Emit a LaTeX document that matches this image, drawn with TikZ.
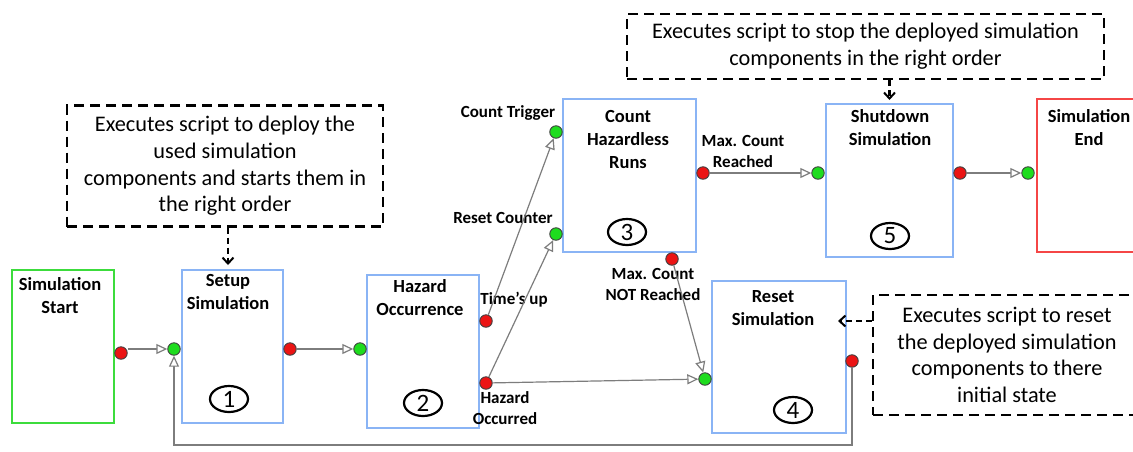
\documentclass[tikz,border=0pt]{standalone}
\usepackage{fontspec}
\setmainfont{Carlito}
\usetikzlibrary{arrows.meta,shapes.geometric,calc}
\definecolor{boxblue}{RGB}{138,180,245}
\definecolor{boxgreen}{RGB}{60,220,60}
\definecolor{boxred}{RGB}{245,70,70}
\definecolor{dotred}{RGB}{235,20,20}
\definecolor{dotgreen}{RGB}{30,220,30}
\definecolor{conngray}{RGB}{125,125,125}
\tikzset{
  blockbox/.style={draw=boxblue,line width=1.6pt,minimum width=#1,inner sep=0pt},
  title/.style={font=\bfseries\fontsize{18.5}{23}\selectfont,align=center,inner sep=0pt},
  portlabel/.style={font=\bfseries\fontsize{17}{21}\selectfont,align=center,inner sep=0pt},
  note/.style={draw,dashed,dash pattern=on 10pt off 6pt,line width=2.2pt,font=\fontsize{22.3}{26.7}\selectfont,align=center,inner sep=0pt},
  reddot/.style={circle,fill=dotred,draw=black!75,line width=0.9pt,minimum size=12.5pt,inner sep=0pt},
  greendot/.style={circle,fill=dotgreen,draw=black!75,line width=0.9pt,minimum size=12.5pt,inner sep=0pt},
  conn/.style={draw=conngray,line width=1.2pt,-{Triangle[open,length=11pt,width=10pt,fill=white]}},
  notearrow/.style={line width=2.2pt,dash pattern=on 6pt off 4pt,-{Straight Barb[length=6pt,width=11pt,line width=2pt]}},
  numbered/.style={ellipse,draw,line width=2.2pt,minimum width=38pt,minimum height=26pt,inner sep=0pt,font=\fontsize{25}{25}\selectfont}
}
\begin{document}
\begin{tikzpicture}[x=1pt,y=-1pt]
\path[use as bounding box] (0,0) rectangle (1133,451);
\clip (0,0) rectangle (1133,451);
\fill[white] (0,0) rectangle (1133,451);

% blocks
\node[draw=boxgreen,line width=1.6pt,minimum width=102pt,minimum height=153pt,inner sep=0pt] (start) at (63,346.5) {};
\node[blockbox=101pt,minimum height=153pt] (setup) at (232.5,346.5) {};
\node[blockbox=112pt,minimum height=153pt] (hazard) at (423,351.5) {};
\node[blockbox=133pt,minimum height=153pt] (count) at (629.5,175.5) {};
\node[blockbox=127pt,minimum height=153pt] (shut) at (889.5,180.5) {};
\node[blockbox=134pt,minimum height=152pt] (reset) at (779,357) {};
\node[draw=boxred,line width=1.6pt,minimum width=110pt,minimum height=153pt,inner sep=0pt] (endb) at (1092,175.5) {};

% titles
\node[title] (t0) at (60,296) {Simulation\\Start};
\node[title] (t1) at (228,292) {Setup\\Simulation};
\node[title] (t2) at (420,298) {Hazard\\Occurrence};
\node[title] (t3) at (628,139) {Count\\Hazardless\\Runs};
\node[title] (t5) at (890,127.5) {Shutdown\\Simulation};
\node[title] (t6) at (1089,127.5) {Simulation\\End};
\node[title] (t4) at (773,308.5) {Reset\\Simulation};

% numbers
\node[numbered] (n1) at (229,399) {1};
\node[numbered] (n2) at (423,403) {2};
\node[numbered] (n3) at (627,232) {3};
\node[numbered] (n4) at (793,410) {4};
\node[numbered] (n5) at (890,236) {5};

% ports
\node[reddot] (r0) at (121,353) {};
\node[greendot] (g1) at (174,349) {};
\node[reddot] (r1) at (290,349) {};
\node[greendot] (g2) at (360,349) {};
\node[reddot] (r2a) at (486,321) {};
\node[reddot] (r2b) at (486,383) {};
\node[greendot] (g3a) at (556,132) {};
\node[greendot] (g3b) at (556,234) {};
\node[reddot] (r3a) at (703,173) {};
\node[reddot] (r3b) at (672,259) {};
\node[greendot] (g5) at (818,173) {};
\node[reddot] (r5) at (960,173) {};
\node[greendot] (g6) at (1028,173) {};
\node[greendot] (g4) at (705,379) {};
\node[reddot] (r4) at (852,361) {};

% port labels
\node[portlabel] (lct) at (508,113) {Count Trigger};
\node[portlabel] (lrc) at (503,218) {Reset Counter};
\node[portlabel] (ltu) at (514,300) {Time's up};
\node[portlabel] (lho) at (505,408.5) {Hazard\\Occurred};
\node[portlabel] (lnr) at (653,284.5) {Max. Count\\NOT Reached};
\node[portlabel] (lmr) at (743,151.5) {Max. Count\\Reached};

% connectors
\draw[conn] (r0.east |- g1) -- (g1);
\draw[conn] (r1) -- (g2);
\draw[conn] (r2a) -- (g3a);
\draw[conn] (r2b) -- (g3b);
\draw[conn] (r2b) -- (g4);
\draw[conn] (r3b) -- (g4);
\draw[conn] (r3a) -- (g5);
\draw[conn] (r5) -- (g6);
\coordinate (fb1) at (852,445);
\coordinate (fb2) at (174,445);
\draw[conn] (r4) -- (fb1) -- (fb2) -- (g1);

% notes
\node[note,minimum width=316pt,minimum height=121pt] (cA) at (225,166)
  {Executes script to deploy the\\used simulation\\components and starts them in\\the right order};
\node[note,minimum width=477pt,minimum height=65pt] (cB) at (865.5,46.5)
  {Executes script to stop the deployed simulation\\components in the right order};
\node[note,minimum width=268pt,minimum height=120pt] (cC) at (1007,355)
  {Executes script to reset\\the deployed simulation\\components to there\\initial state};

\coordinate (tipA) at (228,265);
\coordinate (tipB) at (889.5,100);
\coordinate (tipC) at (838,321);
\draw[notearrow] (cA.south -| tipA) -- (tipA);
\draw[notearrow] (cB.south -| tipB) -- (tipB);
\draw[notearrow] (cC.west |- tipC) -- (tipC);
\end{tikzpicture}
\end{document}
